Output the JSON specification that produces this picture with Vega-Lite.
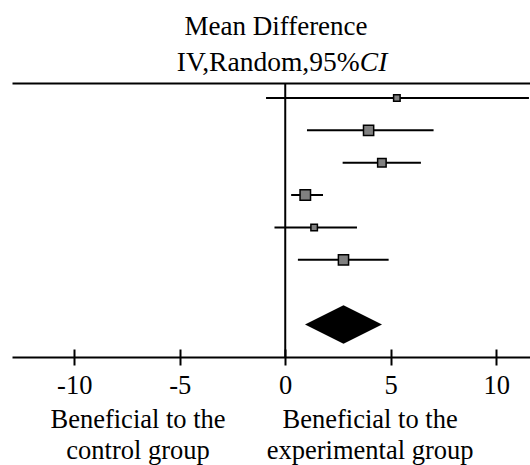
{
  "$schema": "https://vega.github.io/schema/vega-lite/v6.json",
  "width": 518,
  "height": 274,
  "autosize": {"type": "none"},
  "padding": {"left": 12, "top": 83, "right": 0, "bottom": 108},
  "background": "white",
  "title": {"text": "Mean Difference", "font": "Liberation Serif", "fontSize": 27, "fontWeight": "normal", "color": "black", "anchor": "middle", "frame": "group", "dx": 5, "offset": 7},
  "config": {"view": {"stroke": null}, "axis": {"grid": false, "labelColor": "black", "labelFont": "Liberation Serif", "labelLimit": 0}},
  "datasets": {
    "studies": [
      {"idx": 0, "lower": -0.91, "est": 5.29, "upper": 11.55, "weight": 8.9},
      {"idx": 1, "lower": 1.03, "est": 3.95, "upper": 7.03, "weight": 21.9},
      {"idx": 2, "lower": 2.72, "est": 4.58, "upper": 6.43, "weight": 15.2},
      {"idx": 3, "lower": 0.28, "est": 0.95, "upper": 1.79, "weight": 23.2},
      {"idx": 4, "lower": -0.51, "est": 1.37, "upper": 3.4, "weight": 8.9},
      {"idx": 5, "lower": 0.6, "est": 2.76, "upper": 4.9, "weight": 21.9}
    ],
    "pooled": [{"idx": 7, "lower": 0.91, "est": 2.76, "upper": 4.58}]
  },
  "layer": [
    {
      "data": {"name": "studies"},
      "mark": {"type": "rule", "stroke": "black", "strokeWidth": 2},
      "encoding": {
        "x": {
          "field": "lower", "type": "quantitative",
          "scale": {"domain": [-12.95, 11.6], "nice": false, "zero": false},
          "axis": {"orient": "bottom", "values": [-10, -5, 0, 5, 10], "labelExpr": "'' + datum.value", "domain": false, "offset": -8, "tickSize": 16, "tickWidth": 2, "tickColor": "black", "labelFont": "Liberation Serif", "labelFontSize": 26.5, "labelBaseline": "alphabetic", "labelPadding": 28, "title": null, "labelFlush": false, "labelOverlap": false, "labelBound": false, "labelLimit": 0}
        },
        "x2": {"field": "upper"},
        "y": {"field": "idx", "type": "quantitative", "scale": {"domain": [-0.46, 8.0], "reverse": true, "nice": false, "zero": false}, "axis": null}
      }
    },
    {
      "data": {"values": [{}]},
      "mark": {"type": "rule", "stroke": "black", "strokeWidth": 2},
      "encoding": {
        "x": {"datum": 0, "type": "quantitative", "axis": null},
        "y": {"datum": -0.46, "type": "quantitative", "axis": null},
        "y2": {"datum": 8.0}
      }
    },
    {
      "data": {"name": "studies"},
      "mark": {"type": "point", "shape": "square", "filled": true, "fill": "#808080", "stroke": "black", "strokeWidth": 1.5, "opacity": 1},
      "encoding": {
        "x": {
          "field": "est", "type": "quantitative",
          "axis": {"orient": "bottom", "values": [-7, 4], "labelExpr": "datum.value < 0 ? ['Beneficial to the', 'control group'] : ['Beneficial to the', 'experimental group']", "domain": true, "domainColor": "black", "domainWidth": 2, "ticks": false, "tickSize": 0, "labelPadding": 70, "labelBaseline": "alphabetic", "labelLineHeight": 31, "labelFont": "Liberation Serif", "labelFontSize": 26.5, "title": null, "labelOverlap": false, "labelBound": false, "labelFlush": false, "labelLimit": 0}
        },
        "y": {"field": "idx", "type": "quantitative", "axis": null},
        "size": {"field": "weight", "type": "quantitative", "scale": {"domain": [0, 25], "range": [0, 118.5]}, "legend": null}
      }
    },
    {
      "data": {"name": "pooled"},
      "mark": {"type": "point", "shape": "M-1,0L0,-0.5L1,0L0,0.5Z", "filled": true, "fill": "black", "strokeWidth": 0, "opacity": 1, "size": 5929},
      "encoding": {
        "x": {
          "field": "est", "type": "quantitative",
          "axis": {"orient": "top", "values": [3.5, 3.51], "labelExpr": "datum.value < 3.505 ? 'IV,Random,95%' : 'CI'", "labelAlign": {"condition": {"test": "datum.value < 3.505", "value": "right"}, "value": "left"}, "labelFontStyle": {"condition": {"test": "datum.value < 3.505", "value": "normal"}, "value": "italic"}, "domain": true, "domainColor": "black", "domainWidth": 2, "ticks": false, "tickSize": 0, "labelPadding": 12.7, "labelBaseline": "alphabetic", "labelFont": "Liberation Serif", "labelFontSize": 27.5, "title": null, "labelOverlap": false, "labelBound": false, "labelFlush": false, "labelLimit": 0}
        },
        "y": {"field": "idx", "type": "quantitative", "axis": null}
      }
    }
  ],
  "resolve": {"axis": {"x": "independent"}}
}
